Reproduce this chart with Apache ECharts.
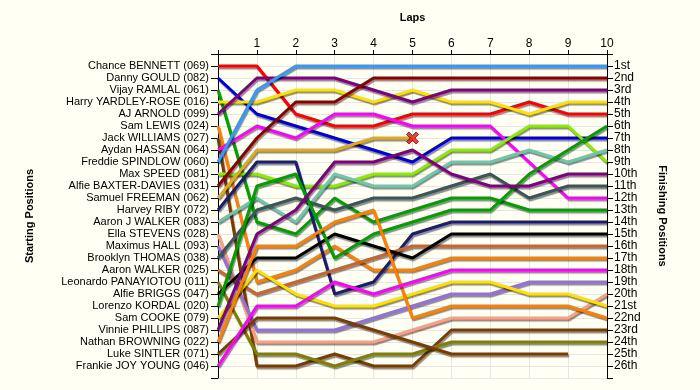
<!DOCTYPE html>
<html>
<head>
<meta charset="utf-8">
<script src="https://cdn.jsdelivr.net/npm/echarts@6/dist/echarts.min.js"></script>
<style>
html,body{margin:0;padding:0;background:#fffff4;}
#c{width:700px;height:390px;}
</style>
</head>
<body>
<div id="c"></div>
<script>
const laps = [0,1,2,3,4,5,6,7,8,9,10];
const lapLabels = ['', '1','2','3','4','5','6','7','8','9','10'];
const drivers = [
  'Chance BENNETT (069)','Danny GOULD (082)','Vijay RAMLAL (061)','Harry YARDLEY-ROSE (016)',
  'AJ ARNOLD (099)','Sam LEWIS (024)','Jack WILLIAMS (027)','Aydan HASSAN (064)',
  'Freddie SPINDLOW (060)','Max SPEED (081)','Alfie BAXTER-DAVIES (031)','Samuel FREEMAN (062)',
  'Harvey RIBY (072)','Aaron J WALKER (083)','Ella STEVENS (028)','Maximus HALL (093)',
  'Brooklyn THOMAS (038)','Aaron WALKER (025)','Leonardo PANAYIOTOU (011)','Alfie BRIGGS (047)',
  'Lorenzo KORDAL (020)','Sam COOKE (079)','Vinnie PHILLIPS (087)','Nathan BROWNING (022)',
  'Luke SINTLER (071)','Frankie JOY YOUNG (046)'
];
const finishLabels = ['1st','2nd','3rd','4th','5th','6th','7th','8th','9th','10th','11th','12th','13th',
  '14th','15th','16th','17th','18th','19th','20th','21st','22nd','23rd','24th','25th','26th'];

// positions per lap (lap 0 .. lap 10); null = not running
const pBennett   = [1,1,5,6,6,5,5,5,4,5,5];
const pGould     = [2,5,6,7,8,9,7,7,7,7,7];
const pRamlal    = [3,14,15,12,14,13,12,12,13,13,13];
const pYardley   = [4,4,3,3,4,3,4,4,5,4,4];
const pArnold    = [5,2,2,2,3,4,3,3,3,3,3];
const pLewis     = [6,19,18,16,18,18,17,17,17,17,17];
const pWilliams  = [7,26,26,25,26,26,23,23,23,23,23];
const pHassan    = [8,6,7,5,5,6,6,6,9,12,12];
const pSpindlow  = [9,3,1,1,1,1,1,1,1,1,1];
const pSpeed     = [10,10,11,11,10,10,8,8,6,6,9];
const pBaxter    = [11,7,4,4,2,2,2,2,2,2,2];
const pFreeman   = [12,8,8,8,7,7,null,null,null,null,null];
const pRiby      = [13,9,9,20,19,15,14,14,14,14,14];
const pAJWalker  = [14,12,14,10,11,11,9,9,8,9,8];
const pStevens   = [15,24,24,24,24,23,22,22,22,22,20];
const pHall      = [16,23,23,23,22,21,20,20,19,19,19];
const pThomas    = [17,13,12,13,12,12,11,10,12,11,11];
const pAWalker   = [18,20,19,18,17,16,16,16,16,16,16];
const pPanay     = [19,25,25,26,25,25,24,24,24,24,24];
const pBriggs    = [20,17,17,15,16,17,15,15,15,15,15];
const pKordal    = [21,11,10,17,15,14,13,13,10,8,6];
const pCooke     = [22,18,20,21,21,20,19,19,20,20,21];
const pPhillips  = [23,15,13,9,9,8,10,11,11,10,10];
const pBrowning  = [24,16,16,14,13,22,21,21,21,21,22];
const pSintler   = [25,22,22,22,23,24,25,25,25,25,null];
const pJoyYoung  = [26,21,21,19,20,19,18,18,18,18,18];

const allPositions = [pBennett,pGould,pRamlal,pYardley,pArnold,pLewis,pWilliams,pHassan,pSpindlow,pSpeed,
  pBaxter,pFreeman,pRiby,pAJWalker,pStevens,pHall,pThomas,pAWalker,pPanay,pBriggs,pKordal,pCooke,
  pPhillips,pBrowning,pSintler,pJoyYoung];

const colors = ['#ff0000','#0000d8','#00a000','#ffe000','#800080','#ff8000','#7a3c00','#ff00ff',
  '#3399ff','#88ee00','#8b0000','#ddaa22','#1c1c70','#6cc8aa','#ff9f80','#9370db','#3a5656',
  '#c8662e','#808000','#000000','#00a000','#ffe000','#800080','#ff8000','#7a3c00','#ff00ff'];

const retired = [pFreeman]; // driver with a crash marker at last lap

const FONT = 'Liberation Sans';
const series = allPositions.map((arr, i) => ({
  name: drivers[i],
  type: 'line',
  yAxisIndex: 0,
  showSymbol: false,
  symbol: 'none',
  animation: false,
  z: 2,
  lineStyle: {width: 3, color: colors[i], shadowColor: 'rgba(0,0,0,0.45)', shadowBlur: 1, shadowOffsetX: 1, shadowOffsetY: 2},
  itemStyle: {color: colors[i]},
  data: arr.map((p, k) => [laps[k], p]).filter(d => d[1] !== null)
}));

// crash marker at last running lap of retired driver
const crashPts = retired.map(arr => {
  let k = arr.length - 1; while (arr[k] === null) k--; return [laps[k], arr[k]];
});
series.push({
  type: 'scatter', yAxisIndex: 0, z: 5, animation: false,
  symbol: 'path://M2,0 L5,3 L8,0 L10,2 L7,5 L10,8 L8,10 L5,7 L2,10 L0,8 L3,5 L0,2 Z',
  symbolSize: 12,
  itemStyle: {color: '#ee1111', borderColor: '#661111', borderWidth: 1},
  data: crashPts
});

const chart = echarts.init(document.getElementById('c'), null, {renderer: 'canvas'});
chart.setOption({
  backgroundColor: '#fffff4',
  animation: false,
  grid: {left: 218, right: 93, top: 54, bottom: 12},
  xAxis: {
    type: 'value', position: 'top', min: 0, max: 10, interval: 1,
    name: 'Laps', nameLocation: 'middle', nameGap: 31,
    nameTextStyle: {fontFamily: FONT, fontWeight: 'bold', fontSize: 11, color: '#000'},
    axisLine: {show: true, lineStyle: {color: '#000', width: 1}},
    axisTick: {show: true, length: 4, lineStyle: {color: '#000'}},
    axisLabel: {formatter: v => lapLabels[v] || '', fontFamily: FONT, fontSize: 12, color: '#000', margin: 4},
    splitLine: {show: true, lineStyle: {color: '#e6e6e6', width: 1}}
  },
  yAxis: [{
    type: 'value', inverse: true, min: 0, max: 27, interval: 1, position: 'left',
    name: 'Starting Positions', nameLocation: 'middle', nameGap: 183, nameRotate: 90,
    nameTextStyle: {fontFamily: FONT, fontWeight: 'bold', fontSize: 11, color: '#000'},
    axisLine: {show: true, lineStyle: {color: '#000'}},
    axisTick: {show: true, length: 7, lineStyle: {color: '#000'}},
    axisLabel: {formatter: v => drivers[v - 1] || '', fontFamily: FONT, fontSize: 11, color: '#000', margin: 9},
    splitLine: {show: true, lineStyle: {color: '#e6e6e6', width: 1}}
  }, {
    type: 'value', inverse: true, min: 0, max: 27, interval: 1, position: 'right',
    name: 'Finishing Positions', nameLocation: 'middle', nameGap: 50, nameRotate: -90,
    nameTextStyle: {fontFamily: FONT, fontWeight: 'bold', fontSize: 11, color: '#000'},
    axisLine: {show: true, lineStyle: {color: '#000'}},
    axisTick: {show: true, length: 6, lineStyle: {color: '#000'}},
    axisLabel: {formatter: v => finishLabels[v - 1] || '', fontFamily: FONT, fontSize: 12, color: '#000', margin: 7},
    splitLine: {show: false}
  }],
  series: series
});
</script>
</body>
</html>
